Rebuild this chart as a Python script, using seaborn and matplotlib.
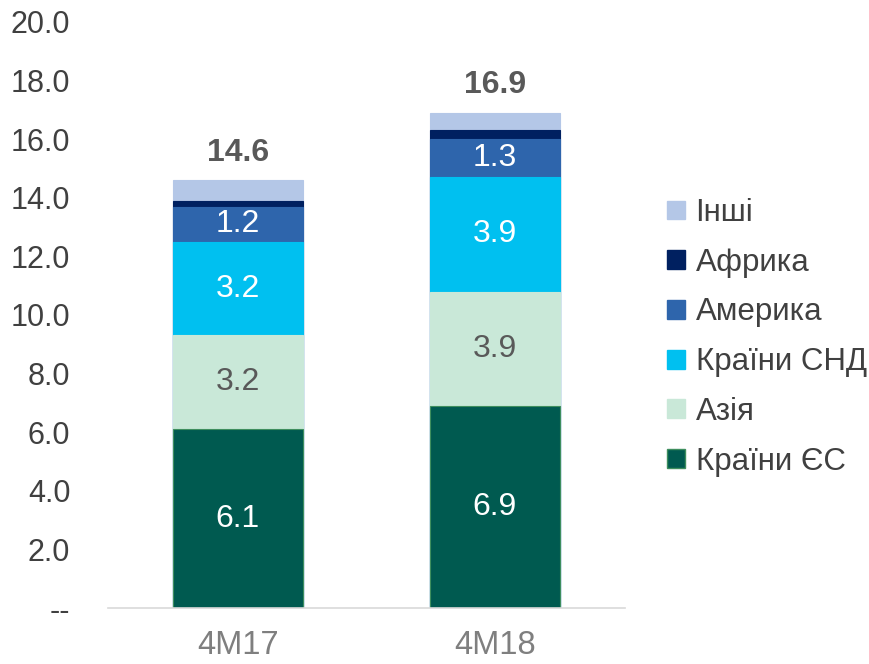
import matplotlib
matplotlib.use("Agg")
import matplotlib.pyplot as plt
import pandas as pd
import seaborn as sns
from matplotlib.patches import Patch

# data (bn USD)
periods = ["4M17", "4M18"]
eu = [6.1, 6.9]
asia = [3.2, 3.9]
cis = [3.2, 3.9]
america = [1.2, 1.3]
africa = [0.2, 0.3]
others = [0.7, 0.6]
totals = [14.6, 16.9]

series_names = ["Країни ЄС", "Азія", "Країни СНД", "Америка", "Африка", "Інші"]
series_values = [eu, asia, cis, america, africa, others]
colors = ["#005A50", "#C9E8D8", "#00C0F0", "#2E65AC", "#002060", "#B4C7E7"]
label_colors = ["white", "#595959", "white", "white", None, None]

sns.set_theme(style="white")
plt.rcParams["font.family"] = ["Liberation Sans", "DejaVu Sans"]

df = pd.DataFrame({"period": periods})
cum = [0.0, 0.0]
bottoms = []
for name, vals in zip(series_names, series_values):
    bottoms.append(list(cum))
    cum = [c + v for c, v in zip(cum, vals)]
    df[name] = cum

fig = plt.figure(figsize=(8.69, 6.64), dpi=100)
ax = fig.add_axes([0.124, 0.0843, 0.595, 0.8827])

# draw cumulative bars from the top layer down so they stack visually
for name, color in reversed(list(zip(series_names, colors))):
    edge = "#3E8E5E" if name == "Країни ЄС" else color
    sns.barplot(data=df, x="period", y=name, color=color, width=0.506,
                edgecolor=edge, linewidth=0.8, saturation=1, ax=ax)

# segment labels
for name, vals, bots, lc in zip(series_names, series_values, bottoms, label_colors):
    if lc is None:
        continue
    for i, (v, b) in enumerate(zip(vals, bots)):
        ax.text(i, b + v / 2, f"{v:.1f}", ha="center", va="center",
                fontsize=23, color=lc)

# totals
for i, t in enumerate(totals):
    ax.annotate(f"{t:.1f}", (i, t), xytext=(0, 9), textcoords="offset points",
                ha="center", va="bottom", fontsize=23, fontweight="bold",
                color="#595959")

ax.set_xlim(-0.506, 1.506)
ax.set_ylim(0, 20)
yt = [0, 2, 4, 6, 8, 10, 12, 14, 16, 18, 20]
ax.set_yticks(yt)
ax.set_yticklabels(["--" if v == 0 else f"{v:.1f}" for v in yt])
ax.tick_params(axis="y", labelsize=22, labelcolor="#404040", length=0, pad=27)
ax.tick_params(axis="x", labelsize=23.5, labelcolor="#7F7F7F", length=0, pad=16)
ax.set_xlabel("")
ax.set_ylabel("")
for s in ["top", "right", "left"]:
    ax.spines[s].set_visible(False)
ax.spines["bottom"].set_color("#D9D9D9")
ax.spines["bottom"].set_linewidth(1.2)

handles = [Patch(facecolor=c, edgecolor=("#3E8E5E" if n == "Країни ЄС" else c), label=n)
           for n, c in zip(series_names, colors)][::-1]
fig.legend(handles=handles, loc="center left", bbox_to_anchor=(0.768, 0.492),
           frameon=False, fontsize=22.5, handlelength=0.55, handleheight=0.55,
           handletextpad=0.35, labelspacing=0.63, labelcolor="#404040",
           borderaxespad=0, borderpad=0)

fig.savefig("out.png", dpi=100)
